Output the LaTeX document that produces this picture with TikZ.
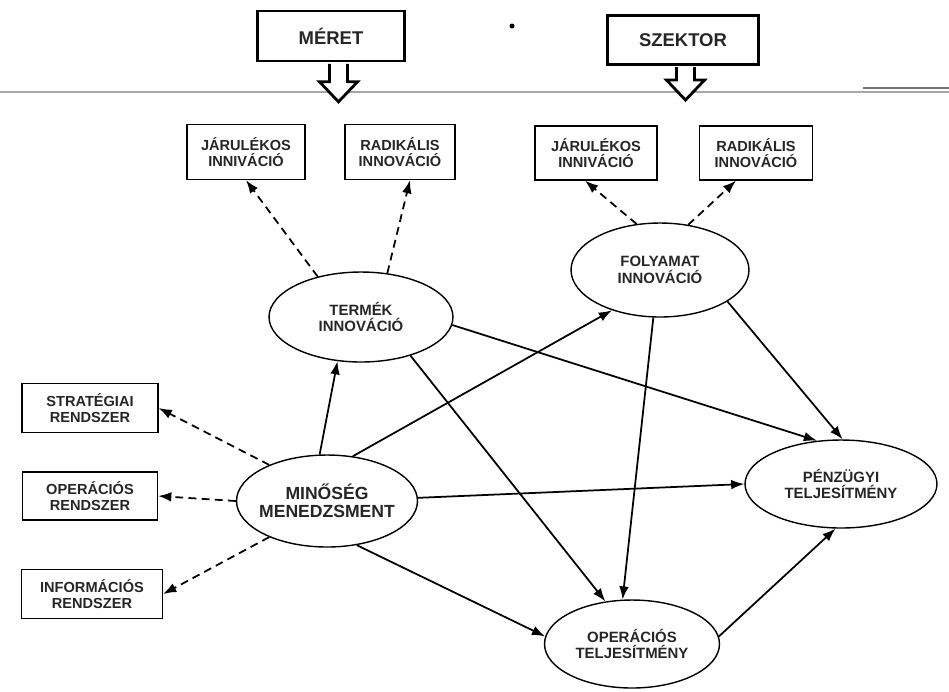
\documentclass[tikz,border=0pt]{standalone}
\usepackage{fontspec}
\setmainfont{Liberation Sans}
\usetikzlibrary{arrows.meta, positioning, shapes.geometric}

\begin{document}
\begin{tikzpicture}[x=0.02cm, y=-0.02cm,
    every node/.style={font=\bfseries\fontsize{8.3}{9.2}\selectfont, align=center, text=black!85},
    box/.style={draw, fill=white, line width=0.75pt, inner sep=1pt},
    topbox/.style={draw, fill=white, line width=1.6pt, font=\bfseries\fontsize{10.5}{12}\selectfont},
    oval/.style={ellipse, draw, line width=0.8pt, inner xsep=1pt, font=\bfseries\fontsize{8.5}{9.5}\selectfont},
    rel/.style={-{Latex[length=7.5pt, width=5.5pt]}, line width=1pt},
    dep/.style={rel, dash pattern=on 4.5pt off 3pt},
    hollow/.style={line width=1.6pt, fill=white, line join=miter}]
\useasboundingbox (0,0) rectangle (949,691);

% rule under the factors
\draw[black!35, line width=0.6pt] (0,92) -- (949,92);
\draw[black!55, line width=0.6pt] (863,88) -- (949,88);
\fill (512,26) circle (0.05cm);

% factors
\node[topbox, minimum width=2.95cm, minimum height=1.0cm] (meret) at (331,36) {MÉRET};
\node[topbox, minimum width=3.03cm, minimum height=0.97cm] (szektor) at (683,40) {SZEKTOR};
\draw[hollow] ([xshift=0.15cm, yshift=-0.8pt]meret.south) ++(-9,0) -- ++(0,18) -- ++(-10,0) -- ++(19,20) -- ++(19,-20) -- ++(-10,0) -- ++(0,-18);
\draw[hollow] ([xshift=0.05cm, yshift=-0.8pt]szektor.south) ++(-9,0) -- ++(0,13) -- ++(-10,0) -- ++(19,20) -- ++(19,-20) -- ++(-10,0) -- ++(0,-13);

% boxes
\node[box, minimum width=2.36cm, minimum height=1.1cm] (jar1) at (246,152) {JÁRULÉKOS\\INNIVÁCIÓ};
\node[box, minimum width=2.2cm, minimum height=1.1cm] (rad1) at (400,152) {RADIKÁLIS\\INNOVÁCIÓ};
\node[box, minimum width=2.44cm, minimum height=1.08cm] (jar2) at (596,153) {JÁRULÉKOS\\INNIVÁCIÓ};
\node[box, minimum width=2.26cm, minimum height=1.08cm] (rad2) at (756,153) {RADIKÁLIS\\INNOVÁCIÓ};
\node[box, minimum width=2.72cm, minimum height=0.98cm] (strat) at (90,408) {STRATÉGIAI\\RENDSZER};
\node[box, minimum width=2.7cm, minimum height=0.96cm] (opr) at (90,496) {OPERÁCIÓS\\RENDSZER};
\node[box, minimum width=2.82cm, minimum height=0.98cm] (inf) at (92,594) {INFORMÁCIÓS\\RENDSZER};

% constructs
\node[oval, minimum width=3.62cm, minimum height=1.84cm, inner xsep=-3pt, font=\bfseries\fontsize{10}{10.5}\selectfont] (min) at (327,501) {MINŐSÉG\\MENEDZSMENT};
\node[oval, minimum width=3.68cm, minimum height=1.8cm] (ter) at (361,317) {TERMÉK\\INNOVÁCIÓ};
\node[oval, minimum width=3.56cm, minimum height=1.88cm] (fol) at (660,270) {FOLYAMAT\\INNOVÁCIÓ};
\node[oval, minimum width=3.84cm, minimum height=1.76cm] (pen) at (841,484) {PÉNZÜGYI\\TELJESÍTMÉNY};
\node[oval, minimum width=3.5cm, minimum height=1.76cm] (opt) at (632,644) {OPERÁCIÓS\\TELJESÍTMÉNY};

% dashed links
\draw[dep] (ter.137) -- (jar1.south);
\draw[dep] (ter.59) -- ([xshift=0.2cm]rad1.south);
\draw[dep] (fol.117) -- ([xshift=-0.22cm]jar2.south);
\draw[dep] (fol.58) -- ([xshift=-0.4cm]rad2.south);
\draw[dep] (min.148) -- (strat.east);
\draw[dep] (min.180) -- (opr.east);
\draw[dep] (min.212) -- (inf.east);

% paths
\draw[rel] (min.99) -- (ter.242);
\draw[rel] (min.60) -- (fol.220);
\draw[rel] (min.2) -- (pen.180);
\draw[rel] (min.-56) -- (opt.175);
\draw[rel] (ter.-5) -- (pen.119);
\draw[rel] (ter.-38) -- (opt.122);
\draw[rel] (fol.-98) -- (opt.102);
\draw[rel] (fol.-25) -- (pen.88);
\draw[rel] (opt.5) -- (pen.-97);
\end{tikzpicture}
\end{document}
